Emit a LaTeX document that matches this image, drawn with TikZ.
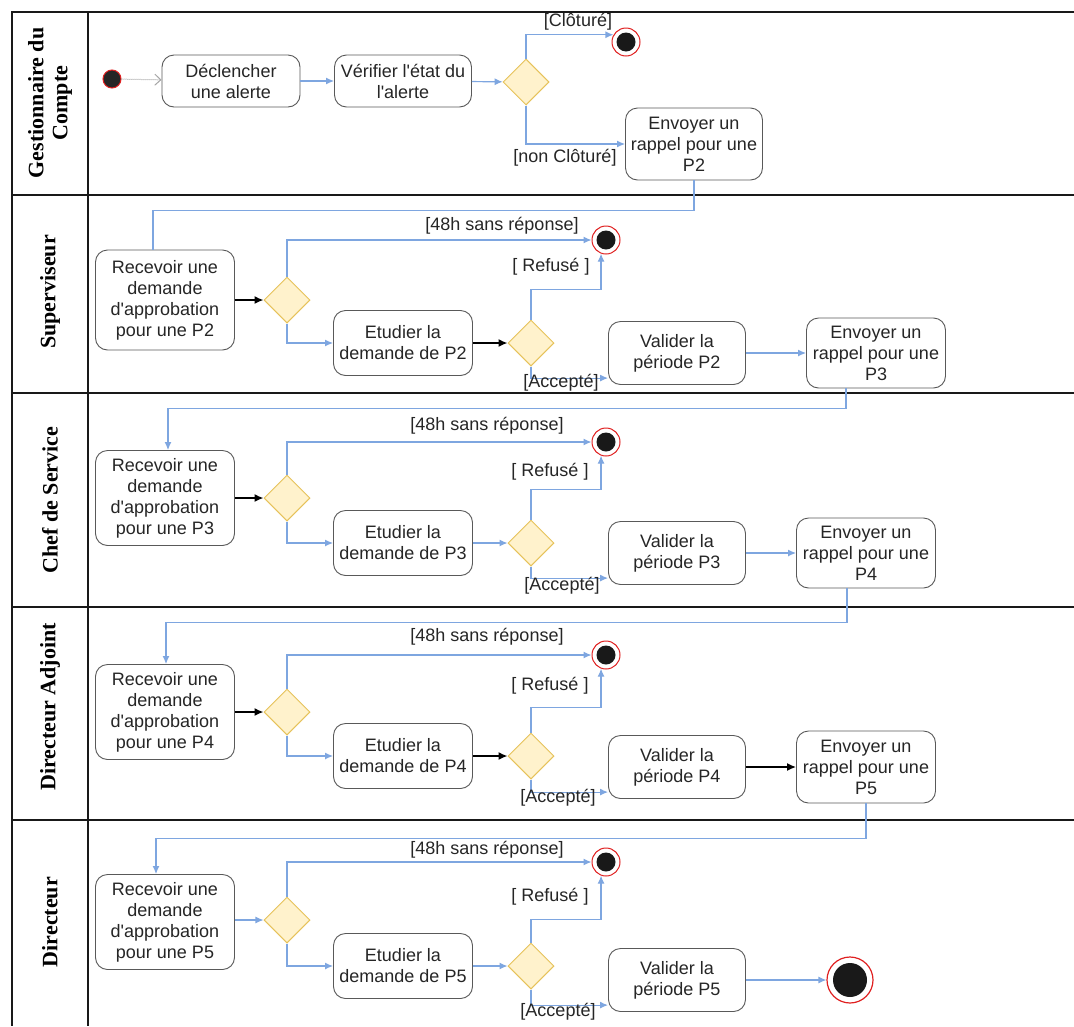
\documentclass[tikz,border=0pt]{standalone}
\usepackage{fontspec}
\setmainfont{Liberation Sans}[Ligatures=TeXOff]
\newfontfamily\lanefamily{Liberation Serif}
\usetikzlibrary{shapes.geometric,arrows.meta,calc}
\definecolor{edgeblue}{HTML}{7EA6E0}
\definecolor{decfill}{HTML}{FFF2CC}
\definecolor{decdraw}{HTML}{E6C25A}
\definecolor{endred}{HTML}{E02020}
\begin{document}
\begin{tikzpicture}[x=1pt,y=-1pt,
  every node/.style={font=\fontsize{18}{21}\selectfont, text=black!85},
  act/.style={draw=black!65, line width=0.9pt, rounded corners=12pt, fill=white, align=center, inner sep=1pt},
  dec/.style={diamond, draw=decdraw, fill=decfill, line width=1pt, minimum width=46pt, minimum height=46pt, inner sep=0pt},
  endst/.style={circle, draw=endred, fill=white, line width=1pt, minimum size=28pt, inner sep=0pt,
    path picture={\fill[black!90] (path picture bounding box.center) circle (9.5pt);}},
  finalst/.style={circle, draw=endred, fill=white, line width=1.2pt, minimum size=46pt, inner sep=0pt,
    path picture={\fill[black!90] (path picture bounding box.center) circle (17pt);}},
  startst/.style={circle, fill=black!85, draw=endred, line width=1pt, minimum size=18pt, inner sep=0pt},
  flow/.style={draw=edgeblue, line width=1.2pt, -{Latex[length=8pt,width=7pt]}},
  flowline/.style={draw=edgeblue, line width=1.2pt},
  bflow/.style={draw=black, line width=1.5pt, -{Latex[length=9pt,width=8pt]}},
  startflow/.style={draw=black!35, line width=1pt, densely dotted, -{Straight Barb[length=6pt,width=11pt]}},
  guard/.style={inner sep=0pt},
  lanetitle/.style={rotate=90, align=center, font=\lanefamily\bfseries\fontsize{22}{24}\selectfont, text=black},
  frame/.style={line width=2pt, draw=black!90}
]
\useasboundingbox (0,0) rectangle (1074,1026);
\fill[white] (0,0) rectangle (1074,1026);

% frame
\draw[frame] (1074,12) -- (12,12) -- (12,1026);
\draw[frame] (88,12) -- (88,1026);
\foreach \yy in {195,393,607,820} \draw[frame] (12,\yy) -- (1074,\yy);

% lane titles
\node[lanetitle] (t1) at (50,103) {Gestionnaire du\\Compte};
\node[lanetitle] (t2) at (50,292) {Superviseur};
\node[lanetitle] (t3) at (50,500) {Chef de Service};
\node[lanetitle] (t4) at (50,707) {Directeur Adjoint};
\node[lanetitle] (t5) at (50,922) {Directeur};

% ---------- Lane 1 ----------
\node[startst] (st) at (112,79) {};
\node[act, minimum width=138pt, minimum height=52pt] (dec) at (231,81) {Déclencher\\une alerte};
\node[act, minimum width=137pt, minimum height=52pt] (ver) at (403,81) {Vérifier l'état du\\l'alerte};
\node[dec] (d0) at (526,82) {};
\node[endst] (f0) at (626,42) {};
\node[act, minimum width=137pt, minimum height=72pt] (env2) at (694,144) {Envoyer un\\rappel pour une\\P2};
\draw[startflow] (st) -- (dec);
\draw[flow] (dec) -- (ver);
\draw[flow] (ver) -- (d0);
\draw[flow] (d0.north) |- (f0.150);
\draw[flow] (d0.south) |- (env2.west);
\node[guard] (g0) at (578,22) {[Clôturé]};
\node[guard] (g1) at (565,158) {[non Clôturé]};

% ---------- Lane 2 ----------
\node[act, minimum width=139pt, minimum height=100pt] (rec2) at (165,300) {Recevoir une\\demande\\d'approbation\\pour une P2};
\node[dec] (d1) at (287,300) {};
\node[endst] (f1) at (606,240) {};
\node[act, minimum width=139pt, minimum height=65pt] (etu2) at (403,343) {Etudier la\\demande de P2};
\node[dec] (d2) at (531,343) {};
\node[act, minimum width=137pt, minimum height=63pt] (val2) at (677,353) {Valider la\\période P2};
\node[act, minimum width=139pt, minimum height=70pt] (env3) at (876,353) {Envoyer un\\rappel pour une\\P3};
\draw[flowline] (env2.south) -- ++(0,30) -| ([xshift=-12pt]rec2.north);
\draw[bflow] (rec2) -- (d1);
\draw[flow] (d1.north) |- (f1.west);
\draw[flow] (d1.south) |- (etu2.west);
\draw[bflow] (etu2) -- (d2);
\draw[flow] (d2.north) -- ++(0,-30) -| (f1.-110);
\draw[flow] (d2.south) |- (val2.200);
\draw[flow] (val2) -- (env3);
\node[guard] (g2a) at (502,226) {[48h sans réponse]};
\node[guard] (g2b) at (551,267) {[ Refusé ]};
\node[guard] (g2c) at (561,383) {[Accepté]};

% ---------- Lane 3 ----------
\node[act, minimum width=139pt, minimum height=95pt] (rec3) at (165,498) {Recevoir une\\demande\\d'approbation\\pour une P3};
\node[dec] (d3) at (287,498) {};
\node[endst] (f3) at (606,442) {};
\node[act, minimum width=139pt, minimum height=65pt] (etu3) at (403,543) {Etudier la\\demande de P3};
\node[dec] (d4) at (531,543) {};
\node[act, minimum width=137pt, minimum height=63pt] (val3) at (677,553) {Valider la\\période P3};
\node[act, minimum width=139pt, minimum height=70pt] (env4) at (866,553) {Envoyer un\\rappel pour une\\P4};
\draw[flow] ([xshift=-30pt]env3.south) -- ++(0,20) -| ([xshift=3pt]rec3.north);
\draw[bflow] (rec3) -- (d3);
\draw[flow] (d3.north) |- (f3.west);
\draw[flow] (d3.south) |- (etu3.west);
\draw[flow] (etu3) -- (d4);
\draw[flow] (d4.north) -- ++(0,-30) -| (f3.-110);
\draw[flow] (d4.south) |- (val3.200);
\draw[flow] (val3) -- (env4);
\node[guard] (g3a) at (487,426) {[48h sans réponse]};
\node[guard] (g3b) at (550,472) {[ Refusé ]};
\node[guard] (g3c) at (562,586) {[Accepté]};

% ---------- Lane 4 ----------
\node[act, minimum width=139pt, minimum height=95pt] (rec4) at (165,712) {Recevoir une\\demande\\d'approbation\\pour une P4};
\node[dec] (d5) at (287,712) {};
\node[endst] (f5) at (606,655) {};
\node[act, minimum width=139pt, minimum height=65pt] (etu4) at (403,756) {Etudier la\\demande de P4};
\node[dec] (d6) at (531,756) {};
\node[act, minimum width=137pt, minimum height=63pt] (val4) at (677,767) {Valider la\\période P4};
\node[act, minimum width=139pt, minimum height=72pt] (env5) at (866,767) {Envoyer un\\rappel pour une\\P5};
\draw[flow] ([xshift=-19pt]env4.south) -- ++(0,34) -| ([xshift=1pt]rec4.north);
\draw[bflow] (rec4) -- (d5);
\draw[flow] (d5.north) |- (f5.west);
\draw[flow] (d5.south) |- (etu4.west);
\draw[bflow] (etu4) -- (d6);
\draw[flow] (d6.north) -- ++(0,-25) -| (f5.-110);
\draw[flow] (d6.south) |- (val4.200);
\draw[bflow] (val4) -- (env5);
\node[guard] (g4a) at (487,637) {[48h sans réponse]};
\node[guard] (g4b) at (550,686) {[ Refusé ]};
\node[guard] (g4c) at (558,798) {[Accepté]};

% ---------- Lane 5 ----------
\node[act, minimum width=139pt, minimum height=95pt] (rec5) at (165,922) {Recevoir une\\demande\\d'approbation\\pour une P5};
\node[dec] (d7) at (287,920) {};
\node[endst] (f7) at (606,862) {};
\node[act, minimum width=139pt, minimum height=65pt] (etu5) at (403,966) {Etudier la\\demande de P5};
\node[dec] (d8) at (531,966) {};
\node[act, minimum width=137pt, minimum height=63pt] (val5) at (677,980) {Valider la\\période P5};
\node[finalst] (fin) at (850,980) {};
\draw[flow] (env5.south) -- ++(0,35) -| ([xshift=-9pt]rec5.north);
\draw[flow] (rec5.east |- d7) -- (d7);
\draw[flow] (d7.north) |- (f7.west);
\draw[flow] (d7.south) |- (etu5.west);
\draw[flow] (etu5) -- (d8);
\draw[flow] (d8.north) -- ++(0,-23) -| (f7.-110);
\draw[flow] (d8.south) |- (val5.200);
\draw[flow] (val5) -- (fin);
\node[guard] (g5a) at (487,850) {[48h sans réponse]};
\node[guard] (g5b) at (550,897) {[ Refusé ]};
\node[guard] (g5c) at (558,1012) {[Accepté]};
\end{tikzpicture}
\end{document}
